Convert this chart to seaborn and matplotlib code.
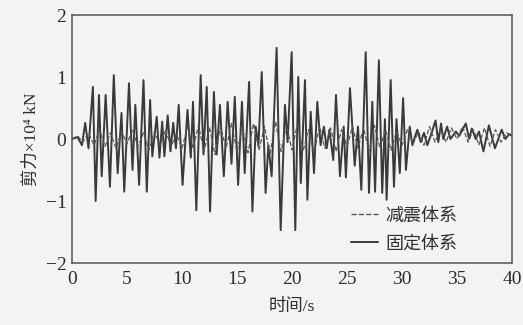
import numpy as np
import pandas as pd
import matplotlib
matplotlib.use("Agg")
import matplotlib.pyplot as plt
import seaborn as sns
from matplotlib.lines import Line2D

# ---- data ----
fixed_t = [0.0, 0.5, 0.9, 1.2, 1.5, 1.9, 2.15, 2.45, 2.7, 3.06, 3.45, 3.8, 4.15, 4.5, 4.75,
           5.18, 5.5, 5.76, 6.1, 6.5, 6.8, 7.1, 7.3, 7.7, 7.95, 8.2, 8.4, 8.7, 8.95, 9.2,
           9.45, 9.7, 10.05, 10.5, 10.8, 11.0, 11.3, 11.7, 11.95, 12.25, 12.55, 12.9, 13.15,
           13.45, 13.8, 14.15, 14.5, 14.8, 15.1, 15.45, 15.7, 16.1, 16.4, 16.7, 16.95, 17.25,
           17.6, 17.85, 18.15, 18.6, 18.97, 19.36, 19.6, 19.97, 20.3, 20.57, 20.8, 21.18,
           21.4, 21.7, 22.0, 22.3, 22.6, 22.9, 23.15, 23.4, 23.75, 24.0, 24.36, 24.7, 24.9,
           25.27, 25.7, 26.0, 26.3, 26.7, 27.0, 27.3, 27.55, 27.9, 28.2, 28.45, 28.6, 28.97,
           29.27, 29.5, 29.8, 30.1, 30.36, 30.7, 30.95, 31.2, 31.4, 31.7, 32.0, 32.3, 32.6,
           33.05, 33.3, 33.55, 33.75, 34.1, 34.4, 34.9, 35.2, 35.8, 36.1, 36.35, 36.7, 37.0,
           37.4, 37.9, 38.45, 39.06, 39.4, 39.75, 40.0]
fixed_v = [0.0, 0.03, -0.1, 0.26, -0.15, 0.84, -1.0, 0.71, -0.6, 0.71, -0.77, 1.03, -0.55, 0.42, -0.85,
           0.9, -0.5, 0.55, -0.74, 0.95, -0.85, 0.63, -0.28, 0.36, -0.3, 0.28, -0.28, 0.38, -0.2, 0.26,
           -0.15, 0.55, -0.74, 0.47, -0.3, 0.6, -1.15, 1.03, -0.25, 0.84, -1.17, 0.76, -0.25,
           0.55, -0.6, 0.6, -0.4, 0.68, -0.74, 0.6, -0.55, 0.92, -1.17, 0.2, -0.1, 1.08,
           -0.87, -0.1, -0.6, 1.47, -1.47, 0.55, -0.05, 1.4, -1.47, 1.0, -0.71, 0.95,
           -0.98, 0.44, -0.55, 0.6, -0.1, 0.2, -0.15, 0.15, -0.34, 0.71, -0.6, 0.2, -0.62,
           0.82, -0.43, 0.2, -0.82, 1.4, -0.87, 0.6, -0.85, 1.27, -0.87, 0.32, -0.98, 0.95,
           -0.77, 0.32, -0.55, 0.66, -0.5, 0.2, -0.1, 0.05, 0.15, -0.05, 0.1, -0.1, 0.05,
           0.3, -0.05, 0.25, 0.0, 0.2, 0.0, 0.12, 0.05, 0.25, 0.0, 0.17, 0.0, 0.12,
           -0.2, 0.22, -0.15, 0.15, 0.0, 0.08, 0.05]

damp_t = [i * 0.5 for i in range(81)]
damp_v = [0, 0.05, -0.05, 0.1, -0.1, 0.15, -0.12, 0.1, -0.15, 0.12, -0.08,
          0.15, -0.12, 0.1, -0.18, 0.12, -0.1, 0.15, -0.12, 0.08, -0.15,
          0.2, -0.15, 0.22, -0.2, 0.18, -0.25, 0.2, -0.15, 0.25, -0.2,
          0.18, -0.22, 0.25, -0.18, 0.2, -0.25, 0.28, -0.2, 0.22, -0.18,
          0.25, -0.2, 0.15, -0.22, 0.2, -0.15, 0.18, -0.2, 0.15, -0.12,
          0.2, -0.15, 0.18, -0.2, 0.22, -0.15, 0.15, -0.18, 0.12, -0.1,
          0.15, -0.08, 0.12, -0.1, 0.2, -0.05, 0.15, -0.05, 0.18, 0.0,
          0.2, -0.05, 0.15, -0.1, 0.18, -0.12, 0.15, -0.05, 0.1, 0.05]

labels = ["减震体系", "固定体系"]
x_ticks = [0, 5, 10, 15, 20, 25, 30, 35, 40]
y_ticks = [-2, -1, 0, 1, 2]

sns.set_theme(style="white")
plt.rcParams["font.family"] = ["Liberation Serif", "Noto Sans CJK SC", "DejaVu Sans"]
plt.rcParams["axes.unicode_minus"] = True

bg = "#f3f3f1"
fig = plt.figure(figsize=(5.23, 3.25), dpi=100, facecolor=bg)
ax = fig.add_axes([72 / 523, 1 - 263 / 325, 440 / 523, 248 / 325])
ax.set_facecolor(bg)

df_fixed = pd.DataFrame({"t": fixed_t, "v": fixed_v})
df_damp = pd.DataFrame({"t": damp_t, "v": damp_v})

line_col = "#3a3a3a"
sns.lineplot(data=df_fixed, x="t", y="v", ax=ax, color=line_col, linewidth=1.4, estimator=None, sort=False)
sns.lineplot(data=df_damp, x="t", y="v", ax=ax, color="#555555", linewidth=0.9, linestyle="--", estimator=None, sort=False)

ax.set_xlim(0, 40)
ax.set_ylim(-2, 2)
ax.set_xticks(x_ticks)
ax.set_yticks(y_ticks)
ax.set_xticklabels([str(v) for v in x_ticks])
ax.set_yticklabels(["\u22122", "\u22121", "0", "1", "2"])
ax.tick_params(direction="in", length=5, width=1, colors="#444444", labelsize=14, labelcolor="#2e2e2e", pad=4)
ax.tick_params(axis="x", pad=6)
for s in ax.spines.values():
    s.set_color("#555555")
    s.set_linewidth(1.1)

ax.set_xlabel("时间/s", fontsize=12.5, color="#2e2e2e", labelpad=8)
ax.set_ylabel("剪力×10⁴ kN", fontsize=12.5, color="#2e2e2e", labelpad=4)

handles = [Line2D([], [], color="#555555", linestyle="--", linewidth=1.0),
           Line2D([], [], color=line_col, linestyle="-", linewidth=1.4)]
leg = ax.legend(handles, labels, loc="lower right", frameon=False, fontsize=13,
                handlelength=1.5, handletextpad=0.4, labelspacing=0.6,
                bbox_to_anchor=(0.9, 0.0), borderaxespad=0.2)
for t in leg.get_texts():
    t.set_color("#2e2e2e")

fig.savefig("out.png", dpi=100, facecolor=bg)
